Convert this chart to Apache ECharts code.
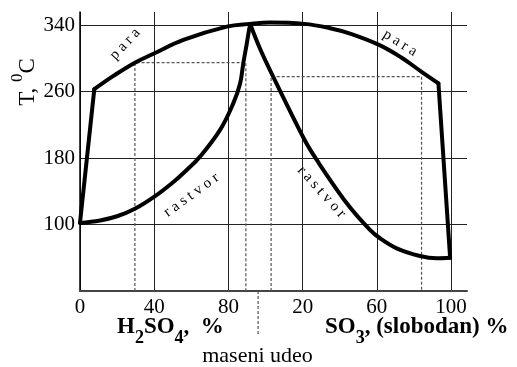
<!DOCTYPE html>
<html><head><meta charset="utf-8">
<script src="https://cdn.jsdelivr.net/npm/echarts@6/dist/echarts.min.js"></script>
<style>html,body{margin:0;padding:0;background:#fff}#c{width:517px;height:367px}</style>
</head><body><div id="c"></div>
<script>
// Combined x scale: 0..100 = H2SO4 %, 100 + v = free SO3 v %
const h2so4Ticks = [0, 40, 80];
const so3Ticks = [20, 60, 100];
const tempTicks = [100, 180, 260, 340];

// outer curve "para"
const paraLeftX = [0, 7.7];
const paraLeftT = [102, 263];
const paraTopX = [7.7, 18, 29.6, 39.9, 55.7, 79.1, 91.6, 102.4, 120.9, 134.8, 145.6, 161.2, 173, 184.1, 193.2];
const paraTopT = [263, 279, 295, 306, 322.4, 338.4, 341.7, 343.3, 341.7, 336.5, 330, 316.4, 301.5, 284, 270];
const paraRightX = [193.2, 199.5];
const paraRightT = [270, 60];

// inner curves "rastvor"
const rastLeftX = [0, 10.8, 20, 29.6, 39.7, 50.2, 57.5, 64.7, 75.5, 82.6, 86.3, 88.0, 89.9, 91.3, 91.8];
const rastLeftT = [102, 105, 110, 119, 133, 151, 165.7, 181.8, 214, 246, 270, 294, 318, 336.5, 341];
const rastRightX = [91.8, 97, 102.4, 120.8, 127.6, 143.8, 156.3, 161.7, 170.7, 183.3, 192.3, 199.5];
const rastRightT = [341, 312, 286, 203, 177.8, 125.6, 93.5, 83.5, 71.4, 62.1, 59.4, 60];

// dotted tie-line rectangles
const dashLeftX = [29.6, 29.6, 89.4, 89.4];
const dashLeftT = [20, 295, 295, 20];
const dashRightX = [103, 103, 184.1, 184.1];
const dashRightT = [20, 278.2, 278.2, 20];
// dotted divider below the axis between the two scales
const dividerX = [96, 96];
const dividerT = [20, -33];

const FONT = 'Liberation Serif';
const pairs = (xs, ts) => xs.map((x, i) => [x, ts[i]]);

function curve(xs, ts, smooth) {
  return { type: 'line', data: pairs(xs, ts), symbol: 'none', smooth: smooth, z: 5,
    lineStyle: { color: '#000', width: 4, cap: 'round', join: 'round' } };
}
function dotted(xs, ts) {
  return { type: 'line', data: pairs(xs, ts), symbol: 'none', clip: false, z: 3,
    lineStyle: { color: '#555', width: 1.2, type: [3, 2] } };
}

const chart = echarts.init(document.getElementById('c'));
chart.setOption({
  animation: false,
  backgroundColor: '#fff',
  grid: { left: 80, right: 50, top: 12, bottom: 76 },
  xAxis: {
    type: 'value', min: 0, max: 208.6, interval: 40,
    axisLine: { show: true, onZero: false, lineStyle: { color: '#444', width: 2 } },
    axisTick: { show: false },
    splitLine: { show: true, showMaxLine: false, lineStyle: { color: '#222', width: 1 } },
    axisLabel: {
      fontFamily: FONT, fontSize: 21, color: '#000', margin: 6,
      formatter: v => {
        if (v <= 100) { const i = h2so4Ticks.indexOf(v); return i >= 0 ? String(h2so4Ticks[i]) : ''; }
        const i = so3Ticks.indexOf(v - 100); return i >= 0 ? String(so3Ticks[i]) : '';
      }
    }
  },
  yAxis: {
    type: 'value', min: 20, max: 356, interval: 80,
    axisLine: { show: true, lineStyle: { color: '#000', width: 1.5 } },
    axisTick: { show: false },
    splitLine: { show: true, showMaxLine: false, lineStyle: { color: '#222', width: 1 } },
    axisLabel: {
      fontFamily: FONT, fontSize: 21, color: '#000', margin: 5,
      formatter: v => tempTicks.indexOf(v) >= 0 ? String(v) : ''
    }
  },
  series: [
    dotted(dashLeftX, dashLeftT),
    dotted(dashRightX, dashRightT),
    dotted(dividerX, dividerT),
    curve(paraLeftX, paraLeftT, false),
    curve(paraTopX, paraTopT, 0.4),
    curve(paraRightX, paraRightT, false),
    curve(rastLeftX, rastLeftT, 0.4),
    curve(rastRightX, rastRightT, 0.35)
  ],
  graphic: [
    { type: 'text', x: 20.5, y: 82, rotation: Math.PI / 2,
      style: { text: '{m|T, }{s|0}{m|C}', align: 'center', verticalAlign: 'middle', fill: '#000',
        rich: { m: { fontFamily: FONT, fontSize: 23, lineHeight: 23, padding: [7, 0, 0, 0], verticalAlign: 'top', fill: '#000' },
                s: { fontFamily: FONT, fontSize: 17, lineHeight: 17, verticalAlign: 'top', fill: '#000' } } } },
    { type: 'text', x: 117, y: 316,
      style: { text: '{m|H}{s|2}{m|SO}{s|4}{m|,  %}', align: 'left', verticalAlign: 'top', fill: '#000',
        rich: { m: { fontFamily: FONT, fontSize: 23, fontWeight: 'bold', lineHeight: 24, verticalAlign: 'top', fill: '#000' },
                s: { fontFamily: FONT, fontSize: 18, fontWeight: 'bold', lineHeight: 18, padding: [13, 0, 0, 0], verticalAlign: 'top', fill: '#000' } } } },
    { type: 'text', x: 325, y: 316,
      style: { text: '{m|SO}{s|3}{m|, (slobodan) %}', align: 'left', verticalAlign: 'top', fill: '#000',
        rich: { m: { fontFamily: FONT, fontSize: 23, fontWeight: 'bold', lineHeight: 24, verticalAlign: 'top', fill: '#000' },
                s: { fontFamily: FONT, fontSize: 18, fontWeight: 'bold', lineHeight: 18, padding: [13, 0, 0, 0], verticalAlign: 'top', fill: '#000' } } } },
    { type: 'text', x: 257.5, y: 356,
      style: { text: 'maseni udeo', align: 'center', verticalAlign: 'middle', fill: '#000', fontFamily: FONT, fontSize: 22 } },
    { type: 'text', x: 125, y: 44, rotation: 47 * Math.PI / 180,
      style: { text: 'p a r a', align: 'center', verticalAlign: 'middle', fill: '#000', fontFamily: FONT, fontSize: 15 } },
    { type: 'text', x: 400, y: 43, rotation: -32 * Math.PI / 180,
      style: { text: 'p a r a', align: 'center', verticalAlign: 'middle', fill: '#000', fontFamily: FONT, fontSize: 15 } },
    { type: 'text', x: 191.5, y: 195, rotation: 36 * Math.PI / 180,
      style: { text: 'r a s t v o r', align: 'center', verticalAlign: 'middle', fill: '#000', fontFamily: FONT, fontSize: 15 } },
    { type: 'text', x: 321.5, y: 192, rotation: -48 * Math.PI / 180,
      style: { text: 'r a s t v o r', align: 'center', verticalAlign: 'middle', fill: '#000', fontFamily: FONT, fontSize: 15 } }
  ]
});
</script>
</body></html>
